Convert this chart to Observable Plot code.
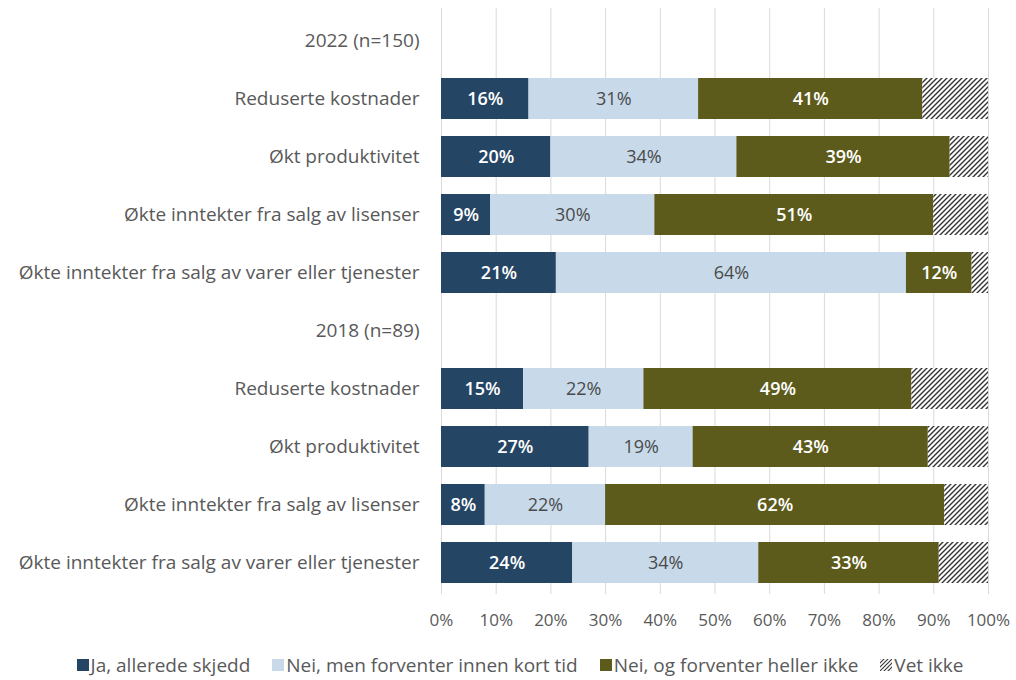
<!DOCTYPE html>
<html><head><meta charset="utf-8">
<script src="https://cdn.jsdelivr.net/npm/d3@7"></script>
<script src="https://cdn.jsdelivr.net/npm/@observablehq/plot@0.6"></script>
<style>
body{margin:0;background:#fff;font-family:"Open Sans",sans-serif;}
#legend{display:flex;justify-content:center;align-items:center;gap:22px;font-size:19px;color:#595959;margin-left:24px;height:30px;margin-top:8px;}
#legend .item{display:flex;align-items:center;}
</style></head><body>
<div id="chart"></div>
<div id="legend"></div>
<script>
const categories = ["Ja, allerede skjedd", "Nei, men forventer innen kort tid", "Nei, og forventer heller ikke", "Vet ikke"];
const colors = ["#254565", "#c8daea", "#5d5b1c", "url(#hatch)"];
const rowLabels = ["Reduserte kostnader", "Økt produktivitet", "Økte inntekter fra salg av lisenser", "Økte inntekter fra salg av varer eller tjenester"];
const groups = ["2022 (n=150)", "2018 (n=89)"];
// values per group, rows in rowLabels order
const ja2022 = [16, 20, 9, 21];
const neiKort2022 = [31, 34, 30, 64];
const neiIkke2022 = [41, 39, 51, 12];
const vet2022 = [12, 7, 10, 3];
const ja2018 = [15, 27, 8, 24];
const neiKort2018 = [22, 19, 22, 34];
const neiIkke2018 = [49, 43, 62, 33];
const vet2018 = [14, 11, 8, 9];
const xTicks = [0, 10, 20, 30, 40, 50, 60, 70, 80, 90, 100];

const series = [
  [ja2022, neiKort2022, neiIkke2022, vet2022],
  [ja2018, neiKort2018, neiIkke2018, vet2018]
];
const domainY = [];
const long = [];
groups.forEach((g, gi) => {
  domainY.push(g);
  rowLabels.forEach((r, ri) => {
    const key = g + "|" + r;
    domainY.push(key);
    categories.forEach((c, ci) => {
      long.push({key, cat: c, value: series[gi][ci][ri]});
    });
  });
});

const stackOpts = (extra) => Plot.stackX({x: "value", y: "key", z: "cat", order: categories, ...extra});

const chart = Plot.plot({
  width: 1016,
  height: 642,
  marginLeft: 441,
  marginRight: 28,
  marginTop: 8,
  marginBottom: 48,
  style: {fontFamily: "'Open Sans', sans-serif", fontSize: "17px", color: "#595959", background: "white"},
  x: {domain: [0, 100], ticks: xTicks, tickFormat: d => d + "%", tickSize: 0, tickPadding: 19, label: null},
  y: {domain: domainY, padding: 0.3, paddingOuter: 0.2, tickSize: 0, tickPadding: 22, label: null,
      tickFormat: k => k.includes("|") ? k.split("|")[1] : k},
  color: {domain: categories, range: colors},
  marks: [
    Plot.gridX(xTicks, {stroke: "#d9d9d9", strokeOpacity: 1, strokeWidth: 1}),
    Plot.barX(long, stackOpts({fill: "cat"})),
    Plot.text(long, stackOpts({
      text: d => (d.cat === categories[0] || d.cat === categories[2]) ? d.value + "%" : null,
      fill: "white", fontSize: 18, fontWeight: 600})),
    Plot.text(long, stackOpts({
      text: d => d.cat === categories[1] ? d.value + "%" : null,
      fill: "#4a4a4a", fontSize: 18}))
  ]
});

d3.select(chart).selectAll("g[aria-label='y-axis tick label'] text").style("font-size", "19px");

d3.select(chart).insert("defs", ":first-child").html(
  '<pattern id="hatch" patternUnits="userSpaceOnUse" width="5" height="5">' +
  '<rect width="5" height="5" fill="white"/>' +
  '<path d="M0,5 L5,0 M-1,1 L1,-1 M4,6 L6,4" stroke="#333" stroke-width="1.4"/></pattern>' +
  '<pattern id="hatchL" patternUnits="userSpaceOnUse" width="4" height="4">' +
  '<rect width="4" height="4" fill="white"/>' +
  '<path d="M0,4 L4,0 M-1,1 L1,-1 M3,5 L5,3" stroke="#333" stroke-width="1.1"/></pattern>'
);
document.getElementById("chart").appendChild(chart);

const legend = document.getElementById("legend");
categories.forEach((c, i) => {
  const item = document.createElement("div");
  item.className = "item";
  const sw = document.createElementNS("http://www.w3.org/2000/svg", "svg");
  sw.setAttribute("width", 12); sw.setAttribute("height", 12);
  sw.style.marginRight = "2px";
  sw.innerHTML = i === 3
    ? '<rect width="12" height="12" fill="url(#hatchL)"/>'
    : `<rect width="12" height="12" fill="${colors[i]}"/>`;
  item.appendChild(sw);
  const t = document.createElement("span");
  t.textContent = c;
  item.appendChild(t);
  legend.appendChild(item);
});
</script>
</body></html>
